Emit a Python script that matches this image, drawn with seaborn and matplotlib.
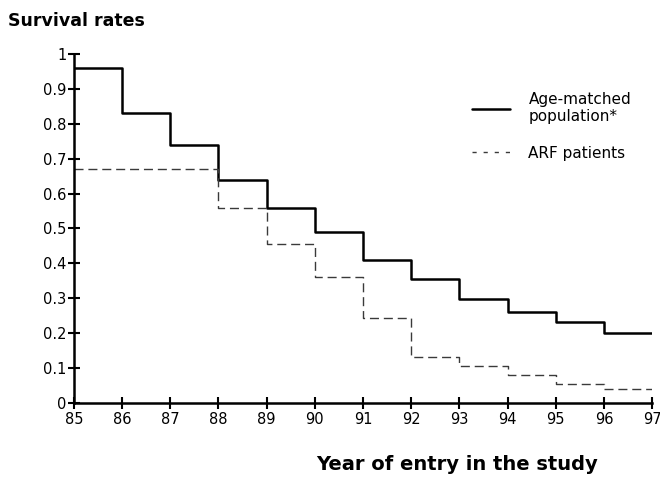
import matplotlib
matplotlib.use('Agg')
import matplotlib.pyplot as plt
import seaborn as sns
import pandas as pd

# valeurs (taux de survie par année d'entrée)
annees = [85, 86, 87, 88, 89, 90, 91, 92, 93, 94, 95, 96, 97]
population = [0.96, 0.83, 0.74, 0.64, 0.56, 0.49, 0.41, 0.355, 0.298, 0.261, 0.232, 0.199]
arf = [0.67, 0.67, 0.67, 0.56, 0.456, 0.36, 0.242, 0.131, 0.107, 0.080, 0.055, 0.041]
noms = ['Age-matched\npopulation*', 'ARF patients']

sns.set_style('ticks')
plt.rcParams['font.family'] = ['DejaVu Sans']
plt.rcParams['text.color'] = 'black'

# dernière valeur répétée pour fermer la marche à 97
df = pd.DataFrame({
    'annee': annees * 2,
    'taux': population + [population[-1]] + arf + [arf[-1]],
    'groupe': [noms[0]] * len(annees) + [noms[1]] * len(annees),
})

fig = plt.figure(figsize=(6.6, 4.83), dpi=100)
ax = fig.add_axes([0.112, 0.166, 0.876, 0.722])

sns.lineplot(data=df[df.groupe == noms[0]], x='annee', y='taux', ax=ax,
             color='black', lw=1.8, drawstyle='steps-post', label=noms[0])
sns.lineplot(data=df[df.groupe == noms[1]], x='annee', y='taux', ax=ax,
             color='#3a3a3a', lw=1.0, drawstyle='steps-post', label=noms[1])
ax.lines[1].set_linestyle((0, (6.5, 3.5)))

ax.set_xlim(85, 97)
ax.set_ylim(0, 1)
ax.set_xticks(range(85, 98))
ax.set_yticks([i / 10 for i in range(11)])
ax.set_yticklabels(['0'] + [f'0.{i}' for i in range(1, 10)] + ['1'])
ax.tick_params(direction='inout', length=9, width=1.5, labelsize=10.5, colors='black')
ax.tick_params(axis='x', pad=2)
ax.tick_params(axis='y', pad=1)
for s in ['top', 'right']:
    ax.spines[s].set_visible(False)
for s in ['left', 'bottom']:
    ax.spines[s].set_linewidth(1.8)
    ax.spines[s].set_color('black')

ax.set_xlabel('')
ax.set_ylabel('')

leg = ax.legend(loc='upper left', bbox_to_anchor=(0.715, 0.81),
                bbox_transform=fig.transFigure, frameon=False,
                fontsize=11, handlelength=2.5, labelspacing=1.4,
                handletextpad=1.2, borderpad=0, borderaxespad=0)
leg.get_lines()[1].set_linestyle((0, (3, 5)))
for t in leg.get_texts():
    t.set_color('black')

fig.text(0.012, 0.957, 'Survival rates', fontsize=12.5, fontweight='bold',
         va='center', color='black')
fig.text(0.692, 0.038, 'Year of entry in the study', fontsize=14, fontweight='bold',
         ha='center', va='center', color='black')

plt.savefig('out.png', dpi=100)
